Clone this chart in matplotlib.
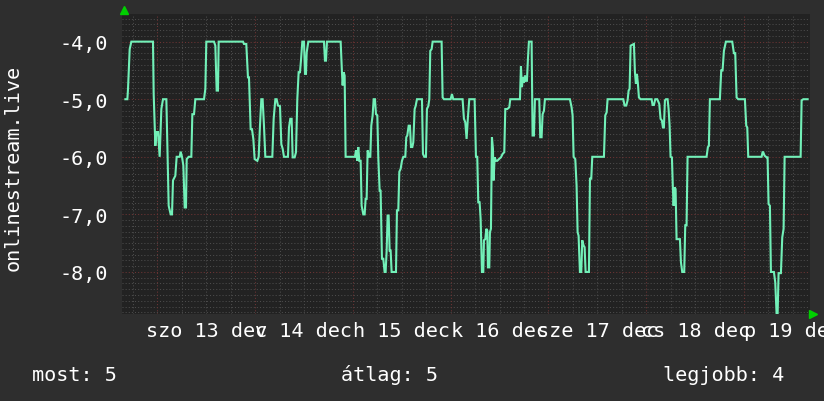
import matplotlib
matplotlib.use("Agg")
import matplotlib.pyplot as plt
import numpy as np

# hours since 2014-12-13 00:00, rank shown negated (rrdtool style)
hours_a = [-7.84, -7.35, -7.19, -6.78, -6.37, -1.06, -0.89, -0.48, -0.24, 0.17, 0.58, 0.99, 1.40, 2.22, 2.46,
           2.79, 3.28, 3.61, 3.85, 4.42, 4.75, 5.49, 5.73, 6.06, 6.39, 6.72, 7.04, 7.21, 7.70, 8.35, 8.60, 9.01,
           9.33, 11.46, 11.79, 12.03, 13.91, 14.24, 14.57, 14.89, 15.06, 21.03, 21.27, 21.84, 22.25, 22.50,
           22.91, 23.24, 23.57, 23.89, 24.55, 24.88, 25.20, 25.53, 25.85, 26.18, 26.51, 28.23, 28.56, 28.97,
           29.29, 29.62, 30.11, 30.44, 30.77, 31.09, 32.07, 32.32, 32.64, 32.97, 33.22, 33.71, 34.04, 34.36]
rank_a = [-5.0, -5.0, -4.82, -4.13, -4.0, -4.0, -4.91, -5.81, -5.57, -5.57, -6.0, -5.17, -5.0, -5.0, -5.78,
          -6.85, -7.0, -7.0, -6.41, -6.33, -6.0, -6.0, -5.91, -6.0, -6.15, -6.88, -6.88, -6.04, -6.0, -6.0, -5.26,
          -5.26, -5.0, -5.0, -4.82, -4.0, -4.0, -4.07, -4.85, -4.85, -4.0, -4.0, -4.04, -4.04, -4.62, -4.62,
          -5.52, -5.52, -5.69, -6.04, -6.07, -6.0, -5.46, -5.0, -5.0, -5.46, -6.0, -6.0, -5.34, -5.0,
          -5.0, -5.11, -5.12, -5.78, -5.86, -6.0, -6.0, -5.49, -5.34, -5.34, -6.01, -6.01, -5.92, -5.0]

hours_b = [34.69, 35.02, 35.26, 35.59, 36.00, 36.25, 36.49, 36.66, 37.06, 40.91, 41.15, 41.40, 41.64, 45.00,
           45.32, 45.49, 45.73, 45.98, 46.22, 48.51, 48.76, 49.09, 49.33, 49.58, 49.91, 50.15, 50.56, 50.89,
           51.13, 51.38, 51.62, 52.03, 52.28, 52.52, 52.85, 53.10, 53.42, 53.67, 54.00, 54.24, 54.57, 54.81,
           55.14, 55.47, 55.79, 56.04, 56.29, 56.53, 56.78, 57.02, 57.27, 57.51, 58.58, 58.82, 59.15, 59.40,
           59.72, 60.05, 60.38, 60.87, 61.11, 61.36, 61.69, 62.01, 62.26, 62.59, 62.83, 63.16, 63.40, 63.73,
           64.96, 65.20, 65.53, 65.94, 66.18, 66.51, 66.76, 67.00, 67.33, 67.58, 69.78, 70.03, 70.36, 71.99,
           72.32, 72.64, 74.93, 75.26, 75.59, 75.91, 76.24, 76.57]
rank_b = [-4.53, -4.53, -4.33, -4.0, -4.0, -4.56, -4.56, -4.19, -4.0, -4.0, -4.33, -4.33, -4.0, -4.0,
          -4.53, -4.76, -4.53, -4.59, -6.0, -6.0, -5.89, -6.07, -5.83, -6.07, -6.07, -6.85, -7.0, -7.0,
          -6.73, -6.73, -5.89, -6.0, -6.0, -5.46, -5.28, -5.0, -5.0, -5.26, -5.28, -6.01, -6.59, -6.59,
          -7.77, -7.77, -8.0, -8.0, -7.63, -7.02, -7.02, -7.63, -7.63, -8.0, -8.0, -6.93, -6.93, -6.26,
          -6.21, -6.07, -6.0, -6.0, -5.66, -5.63, -5.46, -5.46, -5.83, -5.83, -5.75, -5.17, -5.12, -5.0,
          -5.0, -5.95, -6.0, -6.0, -5.17, -5.12, -5.0, -4.16, -4.13, -4.0, -4.0, -4.97, -5.0, -5.0,
          -4.91, -5.0, -5.0, -5.34, -5.40, -5.69, -5.31, -5.0]

hours_c = [77.88, 78.21, 78.53, 78.78, 79.11, 79.36, 79.68, 80.01, 80.17, 80.50, 80.75, 80.99, 81.15, 81.48,
           81.64, 81.89, 82.13, 82.38, 82.54, 82.79, 83.12, 83.44, 83.85, 84.34, 84.75, 85.16, 85.41, 85.90,
           86.39, 86.63, 89.01, 89.25, 89.50, 89.74, 89.99, 90.23, 90.48, 90.72, 90.97, 91.21, 91.87, 92.11,
           92.44, 92.69, 93.75, 93.99, 94.32, 94.57, 94.90, 95.14, 101.27, 101.68, 101.93, 102.18, 102.59,
           102.91, 103.16, 103.40, 103.73, 104.06, 104.30, 104.63, 104.88, 105.12, 105.94, 106.19, 106.51,
           106.76, 109.62, 109.95, 110.28, 110.52, 114.37, 114.69, 115.10, 115.43, 115.68, 115.92, 116.17]
rank_c = [-5.0, -6.0, -6.0, -6.79, -6.79, -7.08, -8.0, -8.0, -7.45, -7.43, -7.25, -7.28, -7.92, -7.92,
          -7.31, -7.25, -5.66, -5.86, -6.41, -6.01, -6.07, -6.07, -6.04, -6.01, -5.95, -5.92, -5.17, -5.17,
          -5.14, -5.0, -5.0, -4.43, -4.79, -4.62, -4.71, -4.59, -4.68, -4.68, -4.30, -4.0, -4.0, -5.63,
          -5.63, -5.0, -5.0, -5.66, -5.66, -5.26, -5.20, -5.0, -5.0, -5.14, -5.28, -6.0, -6.04,
          -6.5, -7.31, -7.37, -8.0, -8.0, -7.45, -7.54, -7.57, -8.0, -8.0, -6.38, -6.38,
          -6.0, -6.0, -5.28, -5.23, -5.0, -5.0, -5.11, -5.11, -5.02, -4.85, -4.82, -4.07]

hours_d = [116.98, 117.23, 117.47, 117.72, 117.96, 118.21, 118.62, 121.32, 121.56, 121.89, 122.22, 122.71,
           123.20, 123.52, 123.85, 124.10, 124.34, 124.59, 124.84, 125.25, 125.49, 125.74, 125.98, 126.31,
           126.55, 126.72, 126.96, 127.21, 127.45, 128.27, 128.52, 128.84, 129.33, 129.58, 129.90, 130.15,
           134.81, 135.14, 135.38, 135.63, 138.08, 138.41, 138.74, 139.07, 139.56, 141.11, 141.52, 141.85,
           142.18, 142.59, 144.22, 144.55, 144.80, 145.04, 148.32, 148.56, 148.72, 149.05, 149.54, 149.79,
           150.03, 150.36, 150.61, 151.34, 151.67, 152.00, 152.25, 152.49, 153.06, 153.39, 153.72, 153.97,
           157.90, 158.14, 158.55, 159.62]
rank_d = [-4.04, -4.53, -4.73, -4.56, -4.73, -4.97, -5.0, -5.0, -5.1, -5.1, -5.0, -5.0,
          -5.08, -5.34, -5.37, -5.49, -5.49, -5.02, -5.0, -5.0, -5.17, -5.46, -6.0, -6.01,
          -6.56, -6.85, -6.53, -6.56, -7.43, -7.43, -7.83, -8.0, -8.0, -7.19, -7.19, -6.0,
          -6.0, -5.83, -5.81, -5.0, -5.0, -4.5, -4.5, -4.16, -4.0, -4.0, -4.2, -4.2,
          -4.97, -5.0, -5.0, -5.46, -5.49, -6.0, -6.0, -5.92, -5.92, -5.98, -6.01, -6.01,
          -6.82, -6.85, -8.0, -8.0, -8.18, -8.73, -8.73, -8.02, -8.02, -7.40, -7.25, -6.0,
          -6.0, -5.02, -5.0, -5.0]

day_names = ["szo", "v", "h", "k", "sze", "cs", "p"]
day_nums = [13, 14, 15, 16, 17, 18, 19]
y_ticks = [-8.0, -7.0, -6.0, -5.0, -4.0]
ylabel = "onlinestream.live"
stats = [("most", 5), ("átlag", 5), ("legjobb", 4)]

hours = hours_a + hours_b + hours_c + hours_d
rank = rank_a + rank_b + rank_c + rank_d

BG = "#2e2e2e"
PLOT_BG = "#222222"
LINE = "#72f0b8"
FONT = "DejaVu Sans Mono"
FS = 14.5

W, H = 824, 402
fig = plt.figure(figsize=(W / 100, H / 100), dpi=100, facecolor=BG)
ax = fig.add_axes([121.7 / W, 1 - 315 / H, (810 - 121.7) / W, 300 / H])
ax.set_facecolor(PLOT_BG)
ax.set_xlim(-8.74, 160.2)
ax.set_ylim(-8.73, -3.52)

# grid: minor gray, major dark red, dotted
for v in np.arange(-8.7, -3.5, 0.1):
    if abs(v - round(v)) > 0.01:
        ax.axhline(v, color="#4c4c4c", lw=0.75, ls=(0, (1, 2)), zorder=1)
for h in range(-6, 161, 6):
    if h % 24:
        ax.axvline(h, color="#4c4c4c", lw=0.75, ls=(0, (1, 2)), zorder=1)
for v in y_ticks:
    ax.axhline(v, color="#6e3434", lw=0.75, ls=(0, (1, 2)), zorder=1.5)
for h in range(0, 161, 24):
    ax.axvline(h, color="#6e3434", lw=0.75, ls=(0, (1, 2)), zorder=1.5)

ax.plot(hours, rank, color=LINE, lw=1.5, zorder=3, solid_joinstyle="miter")

for s in ax.spines.values():
    s.set_visible(False)

ax.set_yticks(y_ticks)
ax.set_yticklabels([("%.1f" % v).replace(".", ",") for v in y_ticks],
                   fontfamily=FONT, fontsize=FS, color="white")
ax.tick_params(axis="y", length=0, pad=10)

noon = [12 + 24 * i for i in range(len(day_names))]
ax.set_xticks(noon)
ax.set_xticklabels(["%s %d dec" % (d, n) for d, n in zip(day_names, day_nums)],
                   fontfamily=FONT, fontsize=FS, color="white")
ax.tick_params(axis="x", length=0, pad=5)

fig.text(13 / W, 1 - 168 / H, ylabel, rotation=90, ha="center", va="center",
         fontfamily=FONT, fontsize=FS, color="white")

stat_x = [32, 341, 663]
for (name, val), x in zip(stats, stat_x):
    fig.text(x / W, 1 - 381 / H, "%s: %d" % (name, val), ha="left", va="baseline",
             fontfamily=FONT, fontsize=FS, color="white")

# rrdtool axis arrows
fig.add_artist(plt.Line2D([124.5 / W], [1 - 10.5 / H], marker="^", ms=6, color="#00d000",
                          transform=fig.transFigure))
fig.add_artist(plt.Line2D([813 / W], [1 - 315 / H], marker=">", ms=6, color="#00d000",
                          transform=fig.transFigure))

fig.savefig("out.png", dpi=100, facecolor=BG)
